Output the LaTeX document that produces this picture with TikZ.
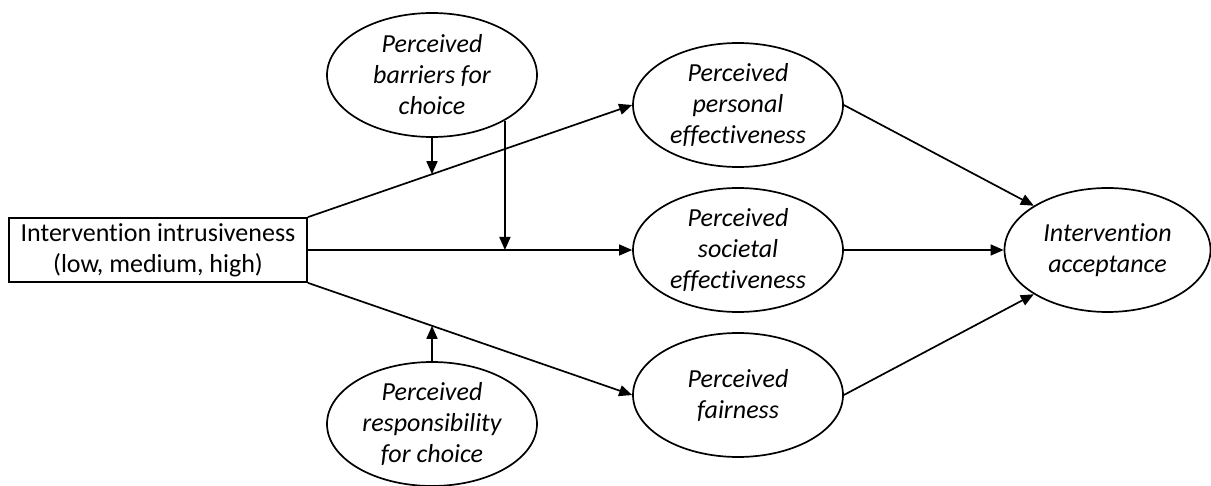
\documentclass[tikz,border=0pt]{standalone}
\usepackage{fontspec}
\setmainfont{Carlito}[Ligatures=NoCommon]
\usetikzlibrary{arrows.meta,shapes.geometric,calc}
\begin{document}
\begin{tikzpicture}[x=1pt,y=-1pt,
  every node/.style={font=\fontsize{26}{31}\selectfont},
  oval/.style={ellipse,draw,line width=1.7pt,minimum width=210pt,minimum height=124pt,inner sep=-10pt,align=center,font=\fontsize{26}{31}\selectfont\itshape},
  boxnode/.style={rectangle,draw,line width=1.7pt,minimum width=298pt,minimum height=64pt,inner sep=0pt,align=center},
  thickarrow/.style={line width=1.7pt,-{Triangle[length=13pt,width=11pt]}},
  thinarrow/.style={line width=1.2pt,-{Triangle[length=13pt,width=11pt]}}]
\useasboundingbox (0,0) rectangle (1211,486);
\node[boxnode] (box) at (158,250) {Intervention intrusiveness\\(low, medium, high)};
\node[oval] (pb) at (432,75) {Perceived\\barriers for\\choice};
\node[oval] (pr) at (432,424) {Perceived\\responsibility\\for choice};
\node[oval] (pe) at (738,105) {Perceived\\personal\\effectiveness};
\node[oval] (se) at (738,250) {Perceived\\societal\\effectiveness};
\node[oval] (fa) at (738,395) {Perceived\\fairness};
\node[oval,minimum width=206pt] (acc) at (1107.5,250) {Intervention\\acceptance};
\draw[thickarrow] (box.north east) -- (pe.west);
\draw[thinarrow] (box.east) -- (se.west);
\draw[thickarrow] (box.south east) -- (fa.west);
\coordinate (m1) at ($(box.north east)!0.383!(pe.west)$);
\coordinate (m2) at ($(box.south east)!0.383!(fa.west)$);
\draw[thickarrow] (pb.south) -- (pb.south |- m1);
\draw[thickarrow] (pb.-32) -- (pb.-32 |- box.east);
\draw[thickarrow] (pr.north) -- (pr.north |- m2);
\draw[thickarrow] (pe.east) -- (acc.149);
\draw[thinarrow] (se.east) -- (acc.west);
\draw[thickarrow] (fa.east) -- (acc.211);
\end{tikzpicture}
\end{document}
